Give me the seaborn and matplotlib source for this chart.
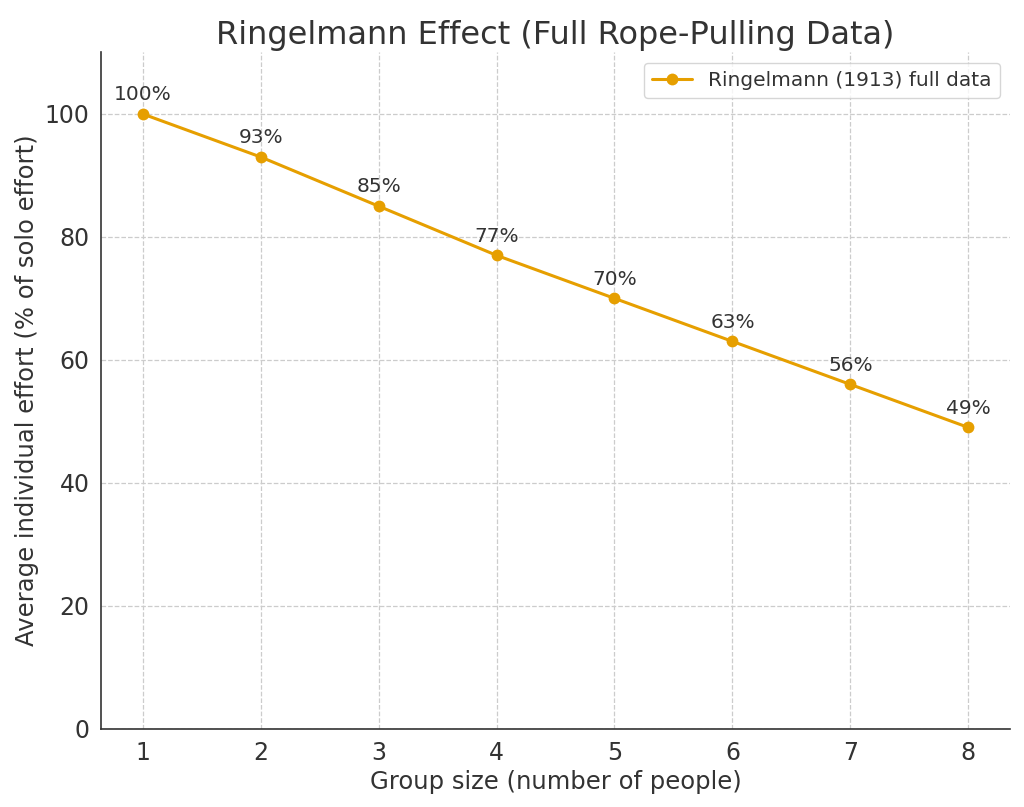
import matplotlib
matplotlib.use("Agg")
import matplotlib.pyplot as plt
import seaborn as sns
import pandas as pd

group_size = [1, 2, 3, 4, 5, 6, 7, 8]
effort = [100, 93, 85, 77, 70, 63, 56, 49]
series_label = "Ringelmann (1913) full data"

sns.set_theme(style="whitegrid")
plt.rcParams['font.family'] = ['DejaVu Sans']
text_color = "#333333"
plt.rcParams.update({
    "text.color": text_color,
    "axes.labelcolor": text_color,
    "xtick.color": text_color,
    "ytick.color": text_color,
})

df = pd.DataFrame({"size": group_size, "effort": effort})

fig, ax = plt.subplots(figsize=(10.24, 8.07), dpi=100)
fig.subplots_adjust(left=0.099, right=0.986, top=0.935, bottom=0.097)

sns.lineplot(data=df, x="size", y="effort", marker="o", color="#E69F00",
             linewidth=2.2, markersize=8.5, markeredgewidth=0, label=series_label, ax=ax)

for x, y in zip(group_size, effort):
    ax.annotate(f"{y}%", (x, y), textcoords="offset points", xytext=(0, 7),
                ha="center", va="bottom", fontsize=14.5, color=text_color)

ax.set_xlim(0.65, 8.35)
ax.set_ylim(0, 110)
ax.set_xticks(group_size)
ax.set_yticks([0, 20, 40, 60, 80, 100])
ax.tick_params(axis="both", labelsize=17, length=5, color="#333333", width=1)
ax.set_xlabel("Group size (number of people)", fontsize=17.5)
ax.set_ylabel("Average individual effort (% of solo effort)", fontsize=17.5)
ax.set_title("Ringelmann Effect (Full Rope-Pulling Data)", fontsize=23, color=text_color)

ax.grid(True, linestyle="--", color="#cccccc", linewidth=0.9)
for s in ["top", "right"]:
    ax.spines[s].set_visible(False)
for s in ["left", "bottom"]:
    ax.spines[s].set_color("#333333")
    ax.spines[s].set_linewidth(1.2)

leg = ax.legend(loc="upper right", fontsize=14.5, frameon=True)
leg.get_frame().set_edgecolor("#cccccc")

fig.savefig("out.png", dpi=100)
